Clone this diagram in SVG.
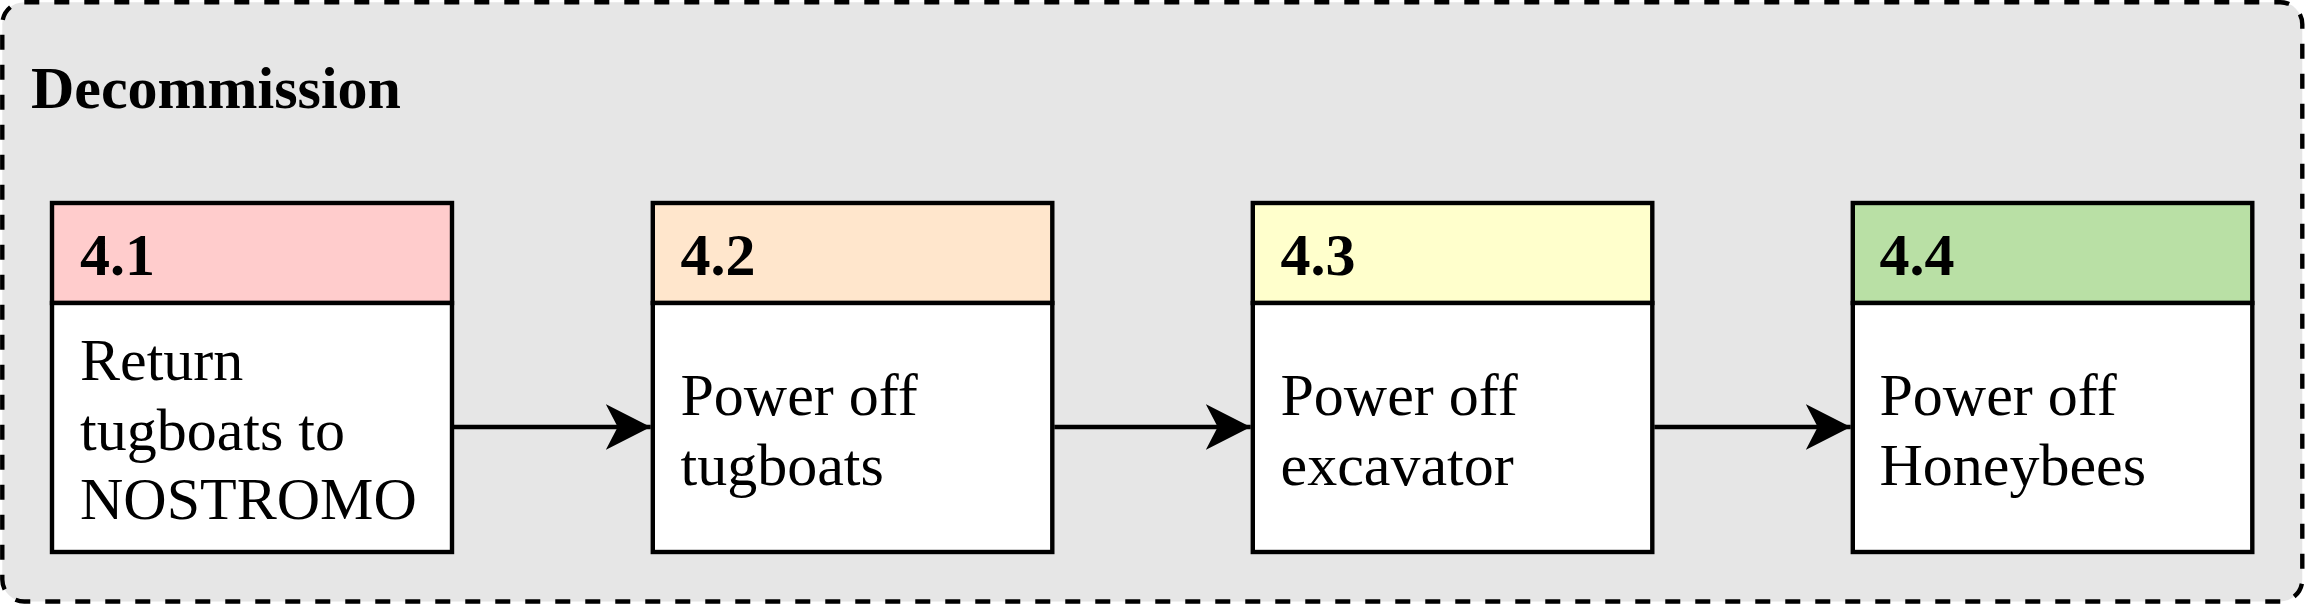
<svg xmlns="http://www.w3.org/2000/svg" width="2305" height="605" viewBox="0 0 2305 605">
<style>
.frame{fill:#E6E6E6;stroke:#000;stroke-width:4.4;stroke-dasharray:15 15}
.box{stroke:#000;stroke-width:4.4}
.body{fill:#fff}
.t{font-family:"Liberation Serif","Times New Roman",serif;font-size:60px;fill:#000}
.b{font-weight:bold}
.edge{stroke:#000;stroke-width:4.4;fill:none}
</style>
<defs>
<marker id="arr" markerUnits="userSpaceOnUse" markerWidth="50" markerHeight="50" viewBox="0 0 50 50" refX="45" refY="25" orient="auto">
<path d="M45,25 L0,2 L12,25 L0,48 Z" fill="#000"/>
</marker>
</defs>
<g id="group-decommission">
<rect class="frame" x="2.3" y="2.2" width="2300" height="599.3" rx="22" ry="22"/>
<text class="t b" x="31" y="108">Decommission</text>
</g>
<g id="node-4-1">
<rect class="box" x="52" y="203" width="400" height="100" fill="#FFCCCC"/>
<rect class="box body" x="52" y="303" width="400" height="249"/>
<text class="t b" x="80" y="275">4.1</text>
<text class="t" x="80" y="380">Return</text>
<text class="t" x="80" y="449.5">tugboats to</text>
<text class="t" x="80" y="519">NOSTROMO</text>
</g>
<g id="node-4-2">
<rect class="box" x="652.8" y="203" width="399.5" height="100" fill="#FFE6CC"/>
<rect class="box body" x="652.8" y="303" width="399.5" height="249"/>
<text class="t b" x="680.5" y="275">4.2</text>
<text class="t" x="680.5" y="415">Power off</text>
<text class="t" x="680.5" y="485">tugboats</text>
</g>
<g id="node-4-3">
<rect class="box" x="1252.8" y="203" width="399.5" height="100" fill="#FFFFCC"/>
<rect class="box body" x="1252.8" y="303" width="399.5" height="249"/>
<text class="t b" x="1280.5" y="275">4.3</text>
<text class="t" x="1280.5" y="415">Power off</text>
<text class="t" x="1280.5" y="485">excavator</text>
</g>
<g id="node-4-4">
<rect class="box" x="1852.8" y="203" width="399.5" height="100" fill="#B9E0A5"/>
<rect class="box body" x="1852.8" y="303" width="399.5" height="249"/>
<text class="t b" x="1879.5" y="275">4.4</text>
<text class="t" x="1879.5" y="415">Power off</text>
<text class="t" x="1879.5" y="485">Honeybees</text>
</g>
<g id="connectors">
<path class="edge" d="M454,427 L650.7,427" marker-end="url(#arr)"/>
<path class="edge" d="M1054.3,427 L1250.7,427" marker-end="url(#arr)"/>
<path class="edge" d="M1654.3,427 L1850.7,427" marker-end="url(#arr)"/>
</g>
</svg>
